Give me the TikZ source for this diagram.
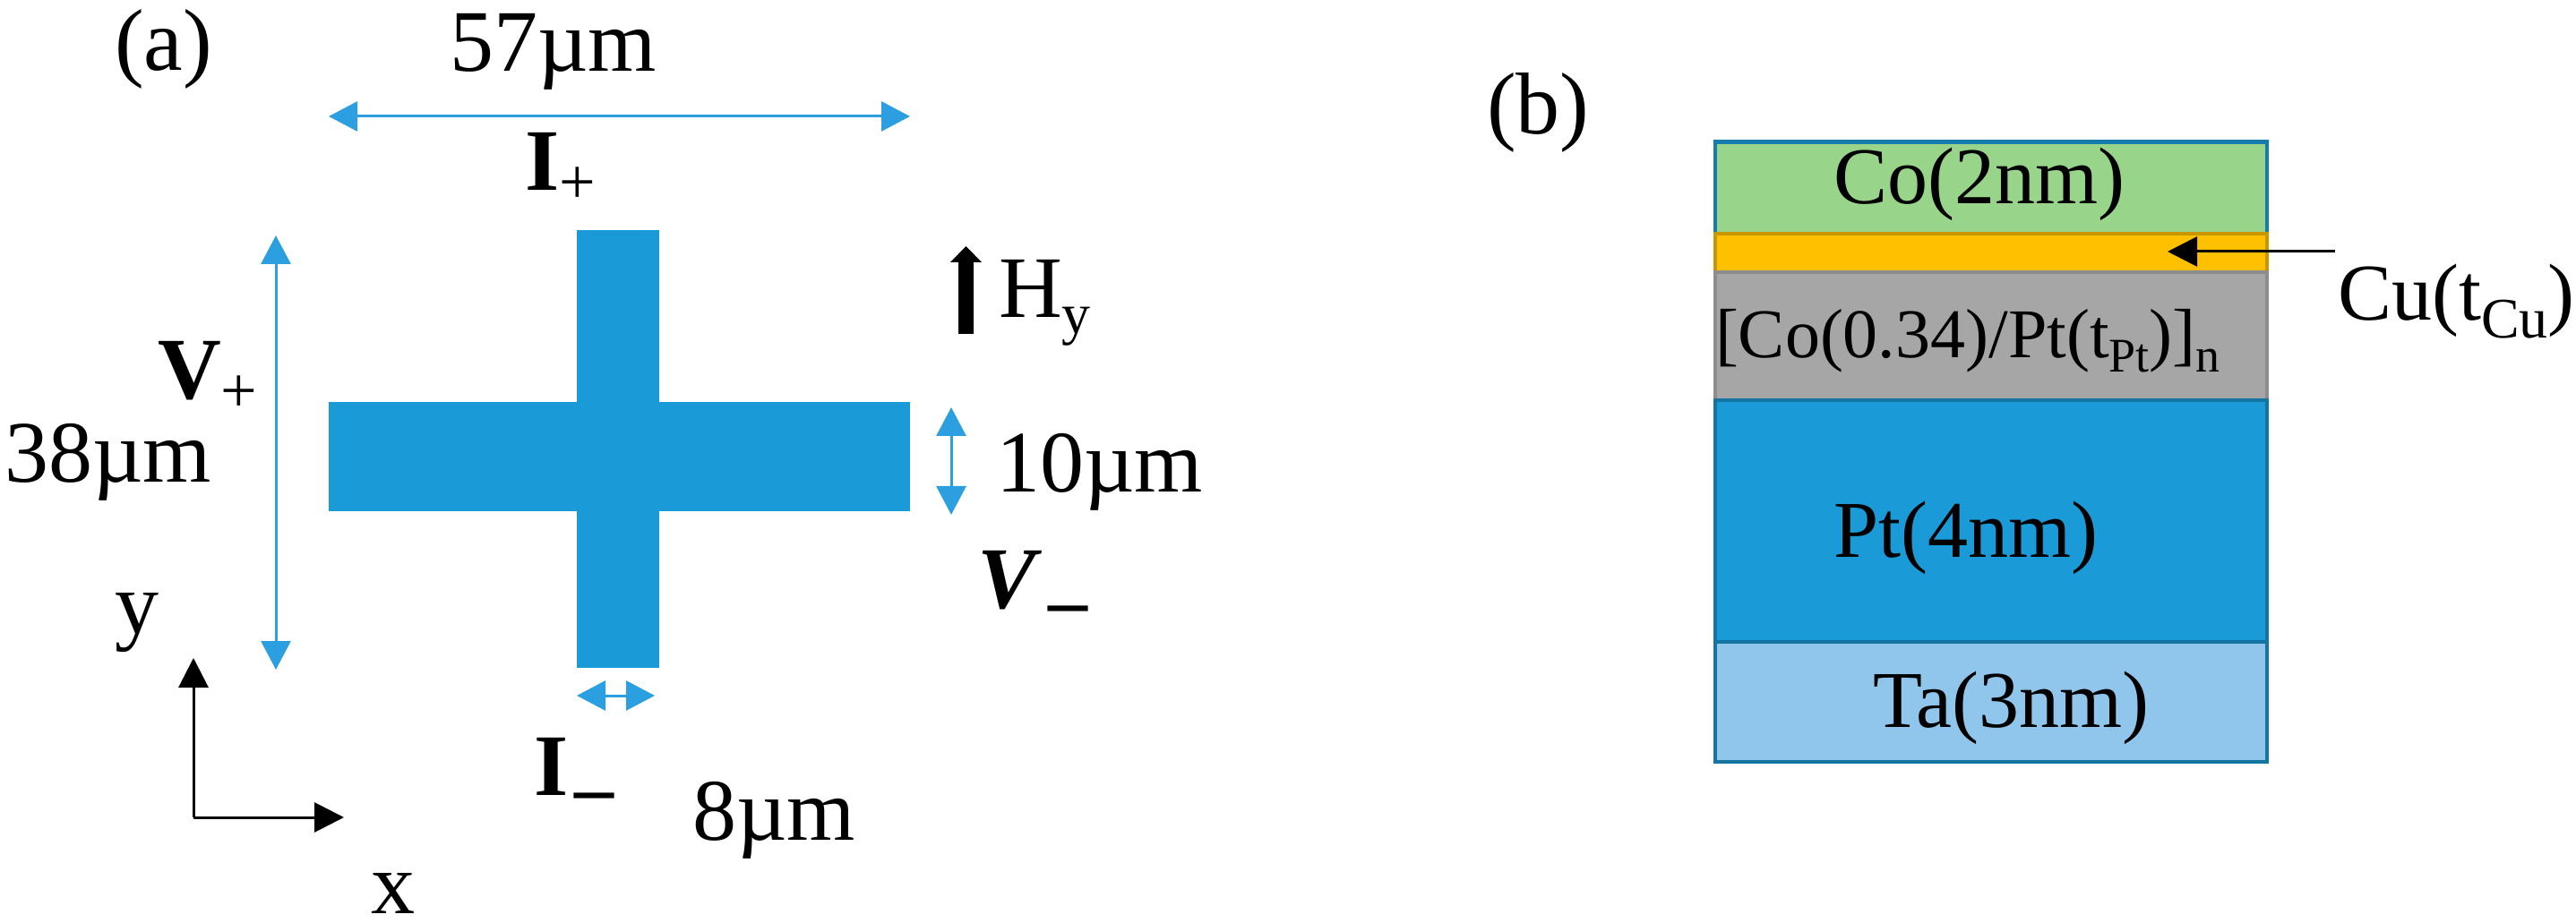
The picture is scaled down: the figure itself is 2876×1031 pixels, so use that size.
\documentclass[tikz,border=0pt]{standalone}
\usepackage{fontspec}
\setmainfont{Liberation Serif}
\usepackage{tikz}
\usetikzlibrary{positioning,arrows.meta}
\definecolor{crossblue}{HTML}{1A9BD8}
\definecolor{dimblue}{HTML}{2C9FE0}
\definecolor{cogreen}{HTML}{98D48A}
\definecolor{cuorange}{HTML}{FFC000}
\definecolor{mlgray}{HTML}{A6A6A6}
\definecolor{tablue}{HTML}{90C6EB}
\newcommand{\subt}[3][7.5]{\raisebox{-#1pt}{\fontsize{#2}{#2}\selectfont #3}}
\newcommand{\lowdash}{\kern3.5pt\raisebox{-10.5pt}{\fontsize{44}{44}\selectfont\textbf{–}}}

\begin{document}
\begin{tikzpicture}[
  x=0.5pt, y=-0.5pt,
  lbl/.style={anchor=base west, inner sep=0pt, outer sep=0pt, font=\fontsize{49}{52}\selectfont},
  lay/.style={lbl, font=\fontsize{45}{48}\selectfont},
  arm/.style={fill=crossblue, inner sep=0pt, outer sep=0pt},
  layer/.style={line width=2.4pt, inner sep=0pt, outer sep=0pt, minimum width=308pt},
  dimarr/.style={{Triangle[length=16pt,width=16.5pt]}-{Triangle[length=16pt,width=16.5pt]}, dimblue, line width=1.5pt},
  axarr/.style={-{Triangle[length=16.5pt,width=16.5pt]}, line width=1.5pt},
  fldarr/.style={-{Triangle[length=9pt,width=17pt]}, line width=8.5pt}
]
\useasboundingbox (0,0) rectangle (2876,1031);

% cross
\node[arm, minimum width=46pt, minimum height=244.5pt] (armv) at (690,501.5) {};
\node[arm, minimum width=324.5pt, minimum height=61pt] (armh) at (691.5,510) {};

% dimension arrows
\coordinate (wl) at (367,130);
\coordinate (wr) at (1016,130);
\draw[dimarr] (wl) -- (wr);
\coordinate (ht) at (308,263);
\coordinate (hb) at (308,748);
\draw[dimarr] (ht) -- (hb);
\coordinate (at) at (1062,455);
\coordinate (ab) at (1062,575);
\draw[dimarr] (at) -- (ab);
\coordinate (bl) at (644,777);
\coordinate (br) at (731,777);
\draw[dimarr] (bl) -- (br);

% axes
\coordinate (org) at (216,913);
\coordinate (yt) at (216,735);
\coordinate (xt) at (384,913);
\draw[axarr] (org) -- (yt);
\draw[axarr] (org) -- (xt);

% field
\coordinate (hs) at (1078.5,373);
\coordinate (he) at (1078.5,275);
\draw[fldarr] (hs) -- (he);

% labels of (a)
\node[lbl] (tagA) at (128,79) {(a)};
\node[lbl] (wid) at (502,80) {57µm};
\node[lbl] (iplus) at (586,213) {\textbf{I}\subt{36}{+}};
\node[lbl] (vplus) at (176,446) {\textbf{V}\subt{36}{+}};
\node[lbl] (hgt) at (5,539) {38µm};
\node[lbl] (ylab) at (128,707) {y};
\node[lbl] (xlab) at (414,1020) {x};
\node[lbl] (hy) at (1115,355) {H\subt[9]{32}{y}};
\node[lbl] (arml) at (1112,550) {10µm};
\node[lbl] (vminus) at (1091,680) {\textbf{\itshape V}\lowdash};
\node[lbl] (iminus) at (596,888) {\textbf{I}\lowdash};
\node[lbl] (armw) at (773,938) {8µm};

% stack of (b)
\node[layer, draw=crossblue!80!black, fill=cogreen, minimum height=51.25pt] (co) at (2223,209.75) {};
\node[layer, draw=cuorange!78!black, fill=cuorange, minimum height=21.5pt, below=0pt of co] (cu) {};
\node[layer, draw=mlgray!85!black, fill=mlgray, minimum height=71.5pt, below=0pt of cu] (ml) {};
\node[layer, draw=crossblue!75!black, fill=crossblue, minimum height=135pt, below=0pt of ml] (pt) {};
\node[layer, draw=crossblue!75!black, fill=tablue, minimum height=67pt, below=0pt of pt] (ta) {};

\node[lbl] (tagB) at (1660,150) {(b)};
\node[lay] (cotxt) at (2047,228) {Co(2nm)};
\node[lay, font=\fontsize{39}{42}\selectfont] (mltxt) at (1915,400) {[Co(0.34)/Pt(t\subt[8]{27}{Pt})]\subt[8]{27}{n}};
\node[lay] (pttxt) at (2047,623) {Pt(4nm)};
\node[lay] (tatxt) at (2091,812) {Ta(3nm)};
\node[lay] (cutxt) at (2610,358) {Cu(t\subt[10]{32}{Cu})};

\coordinate (cs) at (2607,281);
\coordinate (ce) at (2420,281);
\draw[axarr] (cs) -- (ce);
\end{tikzpicture}
\end{document}
